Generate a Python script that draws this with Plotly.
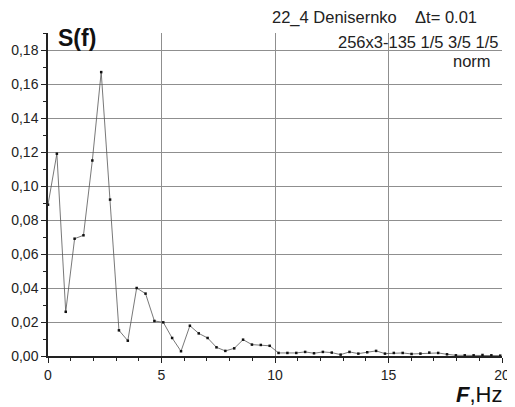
import plotly.graph_objects as go

df = 0.390625
s_values = [0.089, 0.119, 0.026, 0.069, 0.071, 0.115, 0.167, 0.092, 0.0151, 0.009,
            0.040, 0.0367, 0.0206, 0.0198, 0.0106, 0.0028, 0.0178, 0.0133, 0.0106, 0.0051,
            0.003, 0.0045, 0.0096, 0.0067, 0.0065, 0.006, 0.0018, 0.0018, 0.0018, 0.0024,
            0.0016, 0.0024, 0.002, 0.0008, 0.0024, 0.0014, 0.0022, 0.003, 0.0014, 0.0018,
            0.0018, 0.0012, 0.0014, 0.002, 0.0018, 0.001, 0.0004, 0.0004, 0.0004, 0.0006,
            0.0004, 0.0002]
freqs = [k * df for k in range(len(s_values))]

y_ticks = [0.0, 0.02, 0.04, 0.06, 0.08, 0.10, 0.12, 0.14, 0.16, 0.18]
x_ticks = [0, 5, 10, 15, 20]

fig = go.Figure()
fig.add_trace(go.Scatter(
    x=freqs, y=s_values, mode="lines+markers",
    line=dict(color="#555555", width=0.8),
    marker=dict(color="#111111", size=2.5, symbol="square"),
    showlegend=False, cliponaxis=False,
))

font = "Liberation Sans, Arial, sans-serif"
# page body has an 8px margin, so the figure is 8px smaller and shifted
fig.update_layout(
    width=507, height=399,
    margin=dict(l=40, r=13, t=25, b=51),
    paper_bgcolor="white", plot_bgcolor="white",
    separators=",.",
    font=dict(family=font, size=14, color="#222222"),
    xaxis=dict(
        range=[0, 20], tickvals=x_ticks, showline=True, linecolor="#222222", linewidth=1.5,
        ticks="outside", ticklen=5, tickwidth=1, tickcolor="#222222", automargin=False,
        showgrid=True, gridcolor="#8f8f8f", gridwidth=1, zeroline=False,
        minor=dict(dtick=1, ticks="outside", ticklen=3, tickcolor="#222222", showgrid=False),
        tickfont=dict(size=14),
    ),
    yaxis=dict(
        range=[0, 0.19], tickvals=y_ticks, tickformat=".2f", showline=True,
        linecolor="#222222", linewidth=1.5, automargin=False,
        ticks="outside", ticklen=5, tickwidth=1, tickcolor="#222222",
        showgrid=True, gridcolor="#8f8f8f", gridwidth=1, zeroline=False,
        minor=dict(dtick=0.01, ticks="outside", ticklen=3, tickcolor="#222222", showgrid=False),
        tickfont=dict(size=14),
    ),
)

def note(text, x, y, size, xanchor="center", color="#222222"):
    fig.add_annotation(xref="paper", yref="paper", x=x, y=y, xanchor=xanchor,
                       yanchor="middle", text=text, showarrow=False,
                       font=dict(size=size, color=color))

note("<b>S(f)</b>", 0.064, 0.985, 23, color="#111111")
note("22_4 Denisernko&nbsp;&nbsp;&nbsp; Δt= 0.01", 0.720, 1.0495, 16.5)
note("256x3-135 1/5 3/5 1/5", 0.816, 0.972, 16.5)
note("norm", 0.933, 0.913, 16.5)
note("<b><i>F</i></b>,Hz", 0.950, -0.118, 22, color="#111111")

fig.write_html("out.html")
